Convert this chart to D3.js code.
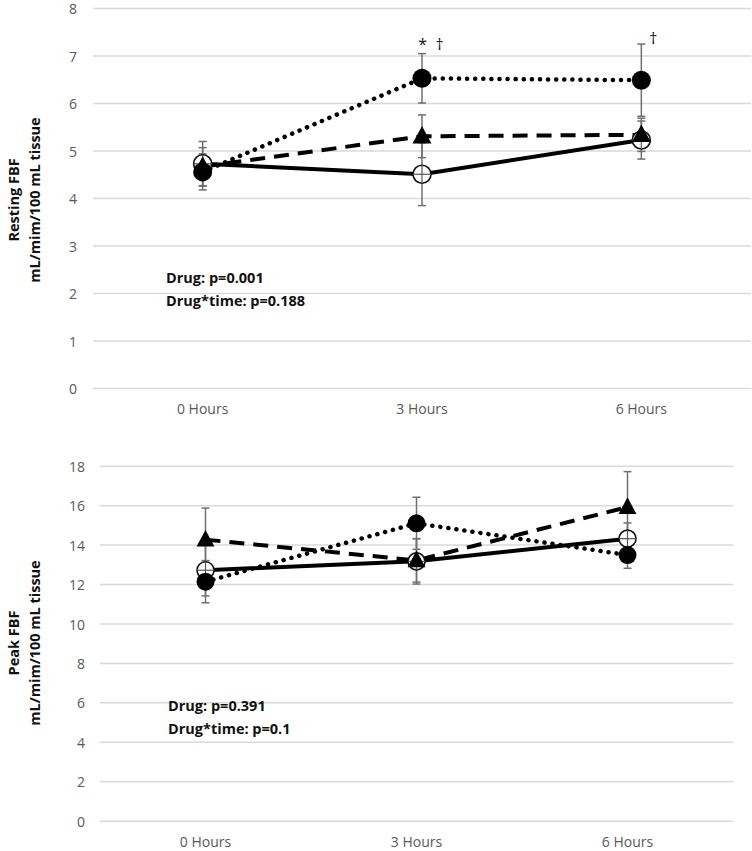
<!DOCTYPE html>
<html><head><meta charset="utf-8">
<script src="https://cdn.jsdelivr.net/npm/d3@7"></script>
<style>body{margin:0;background:#fff}svg{display:block}</style>
</head><body>
<script>
const categories = ["0 Hours", "3 Hours", "6 Hours"];

// Resting FBF
const restTicks = [0,1,2,3,4,5,6,7,8];
const restOpen = [4.72, 4.50, 5.22];
const restOpenErr = [0.47, 0.66, 0.40];
const restTri = [4.66, 5.30, 5.33];
const restTriErr = [0.40, 0.45, 0.35];
const restFilled = [4.55, 6.52, 6.48];
const restFilledErr = [0.38, 0.52, 0.76];
const restStats = ["Drug: p=0.001", "Drug*time: p=0.188"];
const restMarks = ["", "* \u2020", "\u2020"];

// Peak FBF
const peakTicks = [0,2,4,6,8,10,12,14,16,18];
const peakOpen = [12.70, 13.15, 14.30];
const peakOpenErr = [1.30, 1.15, 0.80];
const peakTri = [14.25, 13.20, 15.90];
const peakTriErr = [1.60, 1.10, 1.80];
const peakFilled = [12.12, 15.08, 13.47];
const peakFilledErr = [1.07, 1.32, 0.67];
const peakStats = ["Drug: p=0.391", "Drug*time: p=0.1"];
const peakMarks = ["", "", ""];

const W = 752, H = 851;
const svg = d3.select("body").append("svg").attr("width", W).attr("height", H);
const FONT = "'Open Sans', 'Liberation Sans', sans-serif";

function panel(o) {
  const g = svg.append("g");
  const x = d3.scaleBand().domain(categories).range([o.left, o.right]);
  const cx = c => x(c) + x.bandwidth() / 2;
  const y = d3.scaleLinear().domain([0, d3.max(o.ticks)]).range([o.bottom, o.top]);

  // gridlines
  g.append("g").attr("transform", `translate(${o.left},0)`)
    .call(d3.axisLeft(y).tickValues(o.ticks).tickSize(-(o.right - o.left)).tickFormat(d3.format("d")).tickPadding(o.tickPad))
    .call(a => a.select(".domain").remove())
    .call(a => a.selectAll("line").attr("stroke", "#d9d9d9").attr("stroke-width", 1.5))
    .call(a => a.selectAll("text").attr("fill", "#595959").attr("dy", "0.4em").style("font-family", FONT).style("font-size", "14px"));

  // x labels
  g.append("g").attr("transform", `translate(0,${o.bottom})`)
    .call(d3.axisBottom(x).tickSize(0).tickPadding(o.xPad))
    .call(a => a.select(".domain").remove())
    .call(a => a.selectAll("text").attr("fill", "#595959").style("font-family", FONT).style("font-size", "14px"));

  const series = [
    {v: o.open, e: o.openErr, dash: null, kind: "open"},
    {v: o.tri, e: o.triErr, dash: "15,9", kind: "tri"},
    {v: o.filled, e: o.filledErr, dash: "0.1,8", kind: "filled"}
  ];
  const line = d3.line().x((d, i) => cx(categories[i])).y(d => y(d));

  series.forEach(s => {
    g.append("path").datum(s.v).attr("d", line).attr("fill", "none")
      .attr("stroke", "#000").attr("stroke-width", s.kind === "filled" ? 4.5 : 4)
      .attr("stroke-linecap", s.kind === "filled" ? "round" : "butt")
      .attr("stroke-dasharray", s.dash);
  });
  // error bars
  series.forEach(s => {
    s.v.forEach((v, i) => {
      const px = cx(categories[i]);
      const eg = g.append("g").attr("stroke", "#707070").attr("stroke-width", 1.5);
      eg.append("line").attr("x1", px).attr("x2", px).attr("y1", y(v - s.e[i])).attr("y2", y(v + s.e[i]));
      [v - s.e[i], v + s.e[i]].forEach(t => eg.append("line").attr("x1", px - 4).attr("x2", px + 4).attr("y1", y(t)).attr("y2", y(t)));
    });
  });
  // markers
  series.forEach(s => {
    s.v.forEach((v, i) => {
      const px = cx(categories[i]), py = y(v);
      if (s.kind === "open") {
        g.append("circle").attr("cx", px).attr("cy", py).attr("r", o.r).attr("fill", "#fff").attr("stroke", "#111").attr("stroke-width", 1.6);
        g.append("line").attr("x1", px).attr("x2", px).attr("y1", py - o.r).attr("y2", py + o.r).attr("stroke", "#555").attr("stroke-width", 1.2);
        g.append("line").attr("x1", px - o.r).attr("x2", px + o.r).attr("y1", py).attr("y2", py).attr("stroke", "#555").attr("stroke-width", 1.2);
      } else if (s.kind === "tri") {
        const r = o.r;
        g.append("path").attr("d", `M${px},${py - r * 1.15}L${px + r * 1.05},${py + r * 0.8}L${px - r * 1.05},${py + r * 0.8}Z`).attr("fill", "#000");
      } else {
        g.append("circle").attr("cx", px).attr("cy", py).attr("r", o.r + 0.5).attr("fill", "#000");
      }
    });
  });

  // significance marks
  o.marks.forEach((m, i) => {
    if (!m) return;
    const v = o.filled[i] + o.filledErr[i];
    g.append("text").attr("x", cx(categories[i]) + (m.length > 1 ? 9 : 12)).attr("y", y(v) - (m.length > 1 ? 4 : 0))
      .attr("text-anchor", "middle").style("font-family", FONT).style("font-size", "16px").attr("fill", "#111")
      .attr("xml:space", "preserve").text(m.replace(" ", "  "));
  });

  // stats
  o.stats.forEach((t, i) => {
    g.append("text").attr("x", o.statX).attr("y", o.statY + i * 23).style("font-family", FONT)
      .style("font-size", "14.5px").style("font-weight", "bold").attr("fill", "#111").text(t);
  });

  // y title
  const tt = g.append("text").attr("transform", `translate(0,${o.titleY}) rotate(-90)`)
    .attr("text-anchor", "middle").style("font-family", FONT).style("font-size", "14.5px").style("font-weight", "bold").attr("fill", "#111");
  tt.append("tspan").attr("x", 0).attr("y", 19).text(o.title1);
  tt.append("tspan").attr("x", 0).attr("y", 40).text(o.title2);
}

panel({top: 8, bottom: 388, left: 93, right: 751, ticks: restTicks, tickPad: 16, xPad: 16, r: 9,
  open: restOpen, openErr: restOpenErr, tri: restTri, triErr: restTriErr, filled: restFilled, filledErr: restFilledErr,
  marks: restMarks, stats: restStats, statX: 166, statY: 283, titleY: 200,
  title1: "Resting FBF", title2: "mL/mim/100 mL tissue"});

panel({top: 465.7, bottom: 820.7, left: 100, right: 733, ticks: peakTicks, tickPad: 15, xPad: 16, r: 8.5,
  open: peakOpen, openErr: peakOpenErr, tri: peakTri, triErr: peakTriErr, filled: peakFilled, filledErr: peakFilledErr,
  marks: peakMarks, stats: peakStats, statX: 168, statY: 711, titleY: 643,
  title1: "Peak FBF", title2: "mL/mim/100 mL tissue"});
</script>
</body></html>
